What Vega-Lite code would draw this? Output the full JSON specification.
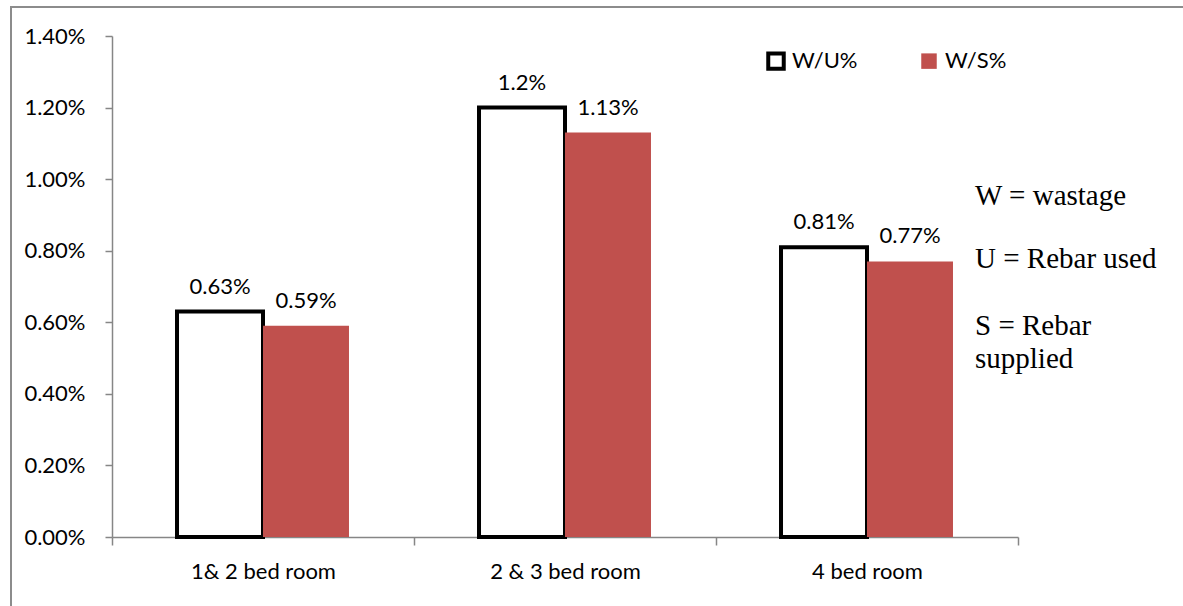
{
  "$schema": "https://vega.github.io/schema/vega-lite/v6.json",
  "autosize": "none",
  "padding": {"left": 11, "top": 7, "right": 0, "bottom": 0},
  "width": 1180,
  "height": 610,
  "background": "white",
  "config": {
    "view": {"stroke": "#8c8c8c", "strokeWidth": 2},
    "font": "Lato",
    "axis": {"grid": false, "domainColor": "#868686", "tickColor": "#868686", "domainWidth": 1.5, "tickWidth": 1.5, "labelFont": "Lato", "labelFontSize": 22, "labelColor": "#000000", "title": null},
    "text": {"align": "left", "baseline": "alphabetic", "lineBreak": "\n", "lineHeight": 33, "font": "Liberation Serif", "fontSize": 29, "dx": 108, "color": "#000000"}
  },
  "datasets": {
    "bars": [
      {"room": "1& 2 bed room", "series": "W/U%", "value": 0.0063},
      {"room": "1& 2 bed room", "series": "W/S%", "value": 0.0059},
      {"room": "2 & 3 bed room", "series": "W/U%", "value": 0.012},
      {"room": "2 & 3 bed room", "series": "W/S%", "value": 0.0113},
      {"room": "4 bed room", "series": "W/U%", "value": 0.0081},
      {"room": "4 bed room", "series": "W/S%", "value": 0.0077}
    ],
    "note1": [{"room": "4 bed room", "note": "W = wastage"}],
    "note2": [{"room": "4 bed room", "note": "U = Rebar used"}],
    "note3": [{"room": "4 bed room", "note": "S = Rebar\nsupplied"}]
  },
  "layer": [
    {
      "data": {"name": "bars"},
      "mark": {"type": "bar", "strokeWidth": 4},
      "encoding": {
        "x": {
          "field": "room", "type": "nominal", "sort": null,
          "scale": {"domain": ["1& 2 bed room", "2 & 3 bed room", "4 bed room"], "range": [101, 1007], "paddingInner": 0, "paddingOuter": 0},
          "axis": {"offset": -80, "tickBand": "extent", "tickSize": 8, "labelPadding": 16, "labelAngle": 0}
        },
        "xOffset": {
          "field": "series", "type": "nominal", "sort": ["W/U%", "W/S%"],
          "scale": {"paddingInner": 0, "paddingOuter": 0.756}
        },
        "y": {
          "field": "value", "type": "quantitative",
          "scale": {"domain": [0, 0.014], "range": [530, 29], "nice": false},
          "axis": {"offset": -101, "values": [0, 0.002, 0.004, 0.006, 0.008, 0.01, 0.012, 0.014], "format": ".2%", "tickSize": 7, "labelPadding": 20}
        },
        "fill": {
          "field": "series", "type": "nominal", "sort": ["W/U%", "W/S%"],
          "scale": {"domain": ["W/U%", "W/S%"], "range": ["#ffffff", "#C0504D"]},
          "legend": {"orient": "none", "legendX": 754, "legendY": 43, "direction": "horizontal", "title": null, "symbolType": "square", "symbolSize": 240, "symbolStrokeWidth": 4, "labelFontSize": 22, "labelFont": "Lato", "labelOffset": 5, "columnPadding": 55}
        },
        "stroke": {
          "field": "series", "type": "nominal", "sort": ["W/U%", "W/S%"],
          "scale": {"domain": ["W/U%", "W/S%"], "range": ["#000000", "rgba(0,0,0,0)"]},
          "legend": {"orient": "none", "legendX": 754, "legendY": 43, "direction": "horizontal", "title": null, "symbolType": "square", "symbolSize": 240, "symbolStrokeWidth": 4, "labelFontSize": 22, "labelFont": "Lato", "labelOffset": 5, "columnPadding": 55}
        }
      }
    },
    {
      "data": {"name": "bars"},
      "mark": {"type": "text", "align": "center", "baseline": "alphabetic", "dx": 0, "dy": -18, "fontSize": 22, "font": "Lato", "color": "#000000"},
      "encoding": {
        "x": {"field": "room", "type": "nominal", "sort": null},
        "xOffset": {"field": "series", "type": "nominal", "sort": ["W/U%", "W/S%"]},
        "y": {"field": "value", "type": "quantitative"},
        "text": {"field": "value", "type": "quantitative", "format": ".2~%"}
      }
    },
    {
      "data": {"name": "note1"},
      "mark": {"type": "text"},
      "encoding": {
        "x": {"field": "room", "type": "nominal", "sort": null},
        "y": {"datum": 0.00929, "type": "quantitative"},
        "text": {"field": "note", "type": "nominal"}
      }
    },
    {
      "data": {"name": "note2"},
      "mark": {"type": "text"},
      "encoding": {
        "x": {"field": "room", "type": "nominal", "sort": null},
        "y": {"datum": 0.00752, "type": "quantitative"},
        "text": {"field": "note", "type": "nominal"}
      }
    },
    {
      "data": {"name": "note3"},
      "mark": {"type": "text"},
      "encoding": {
        "x": {"field": "room", "type": "nominal", "sort": null},
        "y": {"datum": 0.00565, "type": "quantitative"},
        "text": {"field": "note", "type": "nominal"}
      }
    }
  ]
}
